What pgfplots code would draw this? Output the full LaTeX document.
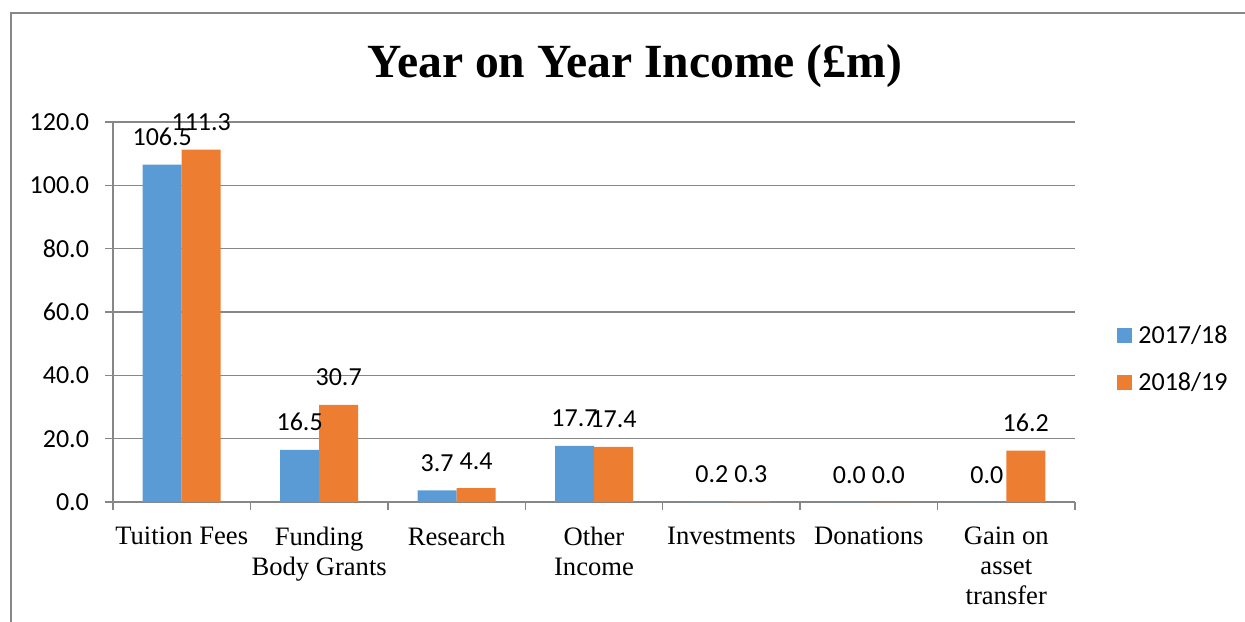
\documentclass[border=0pt]{standalone}
\usepackage{fontspec}
\setmainfont{Liberation Serif}
\newfontfamily\calibri{Carlito}
\usepackage{pgfplots}
\pgfplotsset{compat=1.18}
\definecolor{cblue}{HTML}{5B9BD5}
\definecolor{corange}{HTML}{ED7D31}
\definecolor{gridgray}{HTML}{878787}
\begin{document}
\begin{tikzpicture}
\path[use as bounding box] (0,0) rectangle (622.5pt,310.5pt);
\draw[gridgray,line width=1pt] (5.5pt,-2pt) -- (5.5pt,304pt) -- (625pt,304pt);
\node[anchor=base,font=\bfseries\fontsize{23.8}{27}\selectfont] at (317.5pt,271.5pt) {Year on Year Income (£m)};
\begin{axis}[
  at={(56.5pt,59.5pt)}, anchor=south west,
  scale only axis, width=481pt, height=190pt,
  /pgf/number format/assume math mode=true,
  ybar=0pt, bar width=19.5pt,
  xmin=-0.5, xmax=6.5, ymin=0, ymax=120,
  axis lines=left, axis line style={-, gridgray, line width=0.75pt},
  ytick={0,20,...,120},
  yticklabel style={font=\calibri\fontsize{13}{15}\selectfont, xshift=-4.5pt, /pgf/number format/.cd, fixed, fixed zerofill, precision=1},
  xtick={0,...,6},
  xticklabels={Tuition Fees, Funding\\Body Grants, Research, Other\\Income, Investments, Donations, Gain on\\asset\\transfer},
  xticklabel style={font=\fontsize{13.3}{15}\selectfont, align=center, yshift=-5pt},
  major x tick style={draw=none},
  minor xtick={-0.5,0.5,...,6.5},
  tick align=outside, major tick length=4pt, minor tick length=4pt,
  tick style={gridgray, line width=0.75pt},
  ymajorgrids, grid style={gridgray, line width=0.75pt},
  nodes near coords,
  nodes near coords style={font=\calibri\fontsize{13}{15}\selectfont, anchor=base, yshift=9.5pt, /pgf/number format/.cd, fixed, fixed zerofill, precision=1},
  legend style={at={(1.0437,0.376)}, anchor=west, draw=none, fill=none, font=\calibri\fontsize{13}{15}\selectfont, row sep=9pt, inner sep=0pt},
  legend cell align=left,
  legend image code/.code={\fill[#1] (0pt,-3.75pt) rectangle (7.5pt,3.75pt); \path (8.5pt,0pt);},
]
\addplot[fill=cblue, draw=none] coordinates {(0,106.5) (1,16.5) (2,3.7) (3,17.7) (4,0.2) (5,0.0) (6,0.0)};
\addplot[fill=corange, draw=none] coordinates {(0,111.3) (1,30.7) (2,4.4) (3,17.4) (4,0.3) (5,0.0) (6,16.2)};
\legend{2017/18, 2018/19}
\end{axis}
\end{tikzpicture}
\end{document}
